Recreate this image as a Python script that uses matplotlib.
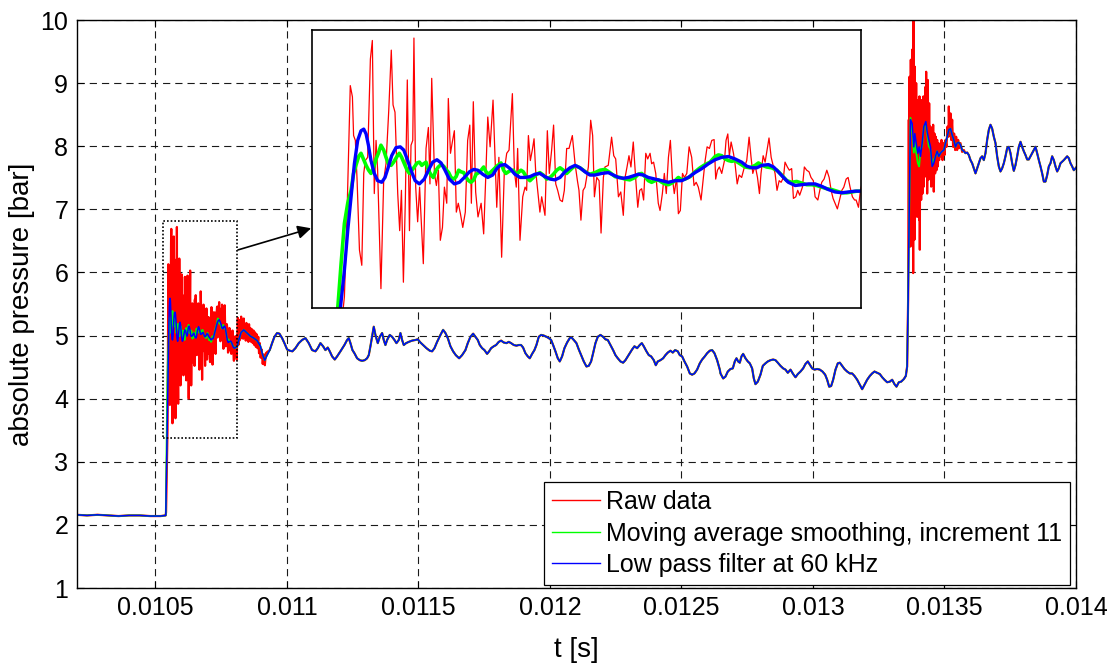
import numpy as np
import matplotlib
matplotlib.use("Agg")
import matplotlib.pyplot as plt
from matplotlib.patches import Rectangle
from matplotlib.ticker import FuncFormatter

plt.rcParams['font.family'] = ['Liberation Sans', 'DejaVu Sans']

# ---------------- data (time in microseconds, pressure in bar) ----------------
# flat level before the first pressure rise (shared by all three signals)
base_pts = [(10200, 2.16), (10240, 2.15), (10280, 2.16), (10320, 2.15), (10360, 2.14),
            (10400, 2.15), (10440, 2.15), (10480, 2.14), (10520, 2.14), (10539, 2.15)]

# raw data, first burst (region shown in the inset)
raw_burst1_pts = [
    (10540.5, 2.20), (10546.1, 3.51), (10547.4, 4.50), (10549.1, 6.13), (10550.2, 5.99), (10550.8, 5.51),
    (10551.7, 5.45), (10552.6, 4.95), (10553.8, 4.09), (10555.0, 3.90), (10556.0, 5.04), (10556.8, 5.20),
    (10558.0, 5.24), (10559.4, 6.46), (10560.4, 6.69), (10561.4, 4.79), (10562.3, 5.45), (10563.1, 5.08),
    (10564.8, 3.61), (10566.2, 4.95), (10567.4, 5.16), (10568.8, 5.82), (10570.1, 6.57), (10571.0, 5.89),
    (10572.0, 5.80), (10573.4, 4.79), (10574.4, 4.33), (10575.3, 4.83), (10576.3, 3.69), (10577.3, 4.71),
    (10578.3, 6.20), (10579.4, 4.33), (10580.2, 5.39), (10581.1, 5.45), (10581.7, 6.72), (10582.6, 4.87),
    (10583.6, 4.44), (10584.6, 4.87), (10586.5, 3.92), (10587.9, 5.35), (10589.1, 5.61), (10589.9, 4.91),
    (10590.8, 6.22), (10592.2, 5.04), (10593.2, 4.89), (10594.2, 5.08), (10595.2, 4.21), (10596.3, 4.37),
    (10597.3, 4.87), (10598.5, 4.67), (10599.3, 5.97), (10600.4, 5.29), (10601.5, 5.45), (10602.4, 5.57),
    (10603.4, 4.56), (10604.4, 4.67), (10605.5, 4.54), (10606.7, 4.37), (10608.0, 4.56), (10609.2, 5.45),
    (10610.3, 5.64), (10611.1, 4.67), (10612.1, 5.93), (10613.3, 4.81), (10614.5, 4.50), (10616.1, 4.67),
    (10617.4, 4.29), (10618.4, 4.95), (10619.5, 5.74), (10620.7, 5.37), (10622.2, 5.95), (10624.1, 4.62),
    (10625.2, 5.24), (10626.6, 4.00), (10628.0, 5.08), (10629.2, 5.29), (10630.4, 5.33), (10632.1, 6.03),
    (10633.1, 5.08), (10634.1, 4.87), (10634.8, 5.35), (10636.0, 4.21), (10637.4, 4.75), (10638.6, 4.87),
    (10639.4, 4.83), (10640.3, 5.51), (10641.3, 5.20), (10642.3, 5.33), (10643.2, 5.47), (10644.0, 5.08),
    (10645.4, 4.75), (10646.2, 4.56), (10647.1, 4.75), (10648.8, 4.52), (10650.0, 5.57), (10651.0, 5.04),
    (10652.2, 5.33), (10653.2, 5.64), (10654.3, 4.91), (10655.3, 4.83), (10656.5, 4.71), (10657.7, 4.69),
    (10658.7, 4.83), (10659.9, 5.35), (10661.1, 5.35), (10662.8, 5.51), (10664.2, 5.16), (10665.4, 4.95),
    (10666.2, 4.83), (10667.2, 4.46), (10668.3, 4.83), (10669.3, 4.87), (10671.0, 5.12), (10672.2, 5.70),
    (10673.2, 5.51), (10674.1, 4.75), (10675.3, 4.99), (10676.5, 4.95), (10677.5, 4.30), (10678.7, 4.99),
    (10679.5, 5.12), (10681.2, 5.14), (10682.9, 5.49), (10684.0, 5.26), (10685.0, 5.22), (10686.4, 4.75),
    (10687.6, 4.81), (10688.9, 4.52), (10689.8, 4.99), (10690.8, 5.12), (10691.8, 5.26), (10692.8, 5.12),
    (10694.0, 5.43), (10695.2, 4.99), (10696.3, 4.62), (10697.3, 4.83), (10698.3, 4.85), (10699.3, 4.71),
    (10700.4, 5.29), (10701.4, 5.22), (10702.6, 5.29), (10703.4, 5.16), (10704.4, 5.18), (10705.5, 5.04),
    (10706.8, 4.67), (10707.7, 4.58), (10708.9, 4.79), (10709.9, 5.04), (10710.9, 4.79), (10712.0, 5.24),
    (10713.0, 5.45), (10714.0, 4.99), (10715.0, 4.79), (10716.2, 4.99), (10717.1, 4.54), (10718.1, 4.58),
    (10719.2, 5.04), (10720.2, 4.99), (10721.4, 5.04), (10722.6, 5.37), (10723.9, 5.24), (10725.1, 4.89),
    (10726.2, 4.93), (10727.3, 4.87), (10728.7, 4.71), (10729.9, 4.99), (10730.8, 5.20), (10731.8, 5.37),
    (10733.0, 5.35), (10734.2, 5.45), (10735.4, 5.46), (10736.2, 4.97), (10737.1, 5.08), (10738.1, 5.12),
    (10739.3, 5.04), (10740.7, 5.20), (10741.5, 5.45), (10742.4, 5.53), (10743.2, 5.26), (10744.1, 5.43),
    (10745.3, 5.29), (10746.1, 5.16), (10747.2, 4.91), (10748.2, 5.02), (10749.5, 4.99), (10750.9, 5.12),
    (10752.1, 5.20), (10753.3, 5.49), (10754.3, 5.24), (10755.2, 5.04), (10756.4, 5.14), (10757.6, 4.99),
    (10758.6, 4.79), (10759.4, 5.04), (10760.5, 5.26), (10761.5, 5.18), (10762.5, 5.33), (10763.5, 5.48),
    (10764.6, 5.24), (10765.4, 5.16), (10766.6, 5.04), (10767.6, 4.83), (10768.7, 4.95), (10769.7, 4.93),
    (10770.9, 4.99), (10771.7, 5.18), (10772.9, 5.12), (10773.9, 5.08), (10775.1, 5.10), (10776.0, 4.73),
    (10777.2, 4.75), (10778.2, 4.83), (10779.2, 4.77), (10780.6, 4.87), (10781.6, 5.12), (10782.8, 5.08),
    (10784.0, 5.06), (10785.0, 4.99), (10786.2, 4.95), (10787.1, 4.75), (10788.5, 4.71), (10789.5, 4.83),
    (10790.5, 4.93), (10791.7, 4.97), (10793.1, 5.08), (10794.3, 4.99), (10795.3, 4.83), (10796.3, 4.73),
    (10797.3, 4.67), (10798.5, 4.60), (10799.6, 4.71), (10800.8, 4.83), (10801.8, 4.87), (10803.0, 4.97),
    (10804.0, 4.99), (10805.0, 4.87), (10806.2, 4.75), (10807.3, 4.71), (10808.1, 4.71), (10809.3, 4.62),
    (10810.3, 4.83)]

# raw data, decaying noise just after the inset region
raw_post1_pts = [
    (10811.5, 4.95), (10813.5, 5.28), (10815.5, 4.85), (10817.5, 5.20), (10819.5, 4.92), (10821.5, 5.25),
    (10823.5, 4.95), (10826.0, 5.30), (10828.5, 5.00), (10831.0, 5.22), (10833.5, 4.95), (10836.0, 5.27),
    (10838.5, 5.02), (10841.0, 5.18), (10843.5, 4.92), (10846.0, 5.20), (10848.5, 4.95), (10851.0, 5.15),
    (10853.5, 4.90), (10856.0, 5.18), (10858.5, 4.92), (10861.0, 5.12), (10864.0, 4.90), (10867.0, 5.10),
    (10870.0, 4.88), (10873.0, 5.08), (10876.0, 4.85), (10879.0, 5.05), (10882.0, 4.82), (10885.0, 5.02),
    (10888.0, 4.80), (10891.0, 4.98), (10894.0, 4.72), (10897.0, 4.88), (10900.0, 4.65), (10904.0, 4.78),
    (10908.0, 4.55), (10912.0, 4.70), (10916.0, 4.53), (10920.0, 4.72), (10925.0, 4.74)]

# moving average (increment 11), first burst
ma_burst1_pts = [
    (10539.5, 2.16), (10542.7, 3.37), (10544.4, 3.92), (10546.1, 4.42), (10547.8, 4.67), (10549.5, 4.83),
    (10550.8, 5.04), (10552.0, 5.14), (10553.4, 5.25), (10554.6, 5.29), (10555.8, 5.22), (10557.2, 5.14),
    (10558.5, 5.08), (10559.7, 5.04), (10561.1, 5.12), (10562.3, 5.22), (10563.5, 5.29), (10564.8, 5.39),
    (10566.2, 5.33), (10567.4, 5.24), (10568.6, 5.16), (10570.0, 5.14), (10571.3, 5.18), (10573.0, 5.25),
    (10574.2, 5.29), (10575.4, 5.24), (10576.8, 5.16), (10578.2, 5.08), (10579.4, 5.04), (10580.7, 5.08),
    (10581.9, 5.12), (10583.3, 5.17), (10584.5, 5.18), (10585.7, 5.14), (10586.7, 5.16), (10587.9, 5.18),
    (10589.1, 5.08), (10590.5, 5.02), (10591.6, 4.99), (10593.0, 5.08), (10594.2, 5.12), (10595.6, 5.15),
    (10596.9, 5.13), (10598.1, 5.09), (10599.5, 5.05), (10600.7, 4.99), (10602.1, 4.97), (10603.3, 5.00),
    (10604.6, 5.08), (10605.8, 5.06), (10607.2, 5.05), (10608.4, 4.99), (10609.7, 4.95), (10610.9, 4.93),
    (10612.3, 4.96), (10613.5, 5.03), (10614.9, 5.05), (10616.1, 5.08), (10617.4, 5.12), (10618.6, 5.06),
    (10620.0, 5.03), (10621.2, 5.06), (10622.5, 5.09), (10624.1, 5.13), (10626.3, 5.17), (10627.6, 5.08),
    (10628.8, 5.04), (10630.0, 5.06), (10631.4, 5.08), (10632.6, 5.08), (10633.8, 5.03), (10635.1, 5.05),
    (10636.5, 5.08), (10637.7, 5.06), (10639.4, 4.99), (10641.1, 4.95), (10642.8, 4.99), (10644.5, 5.03),
    (10646.2, 5.05), (10647.9, 5.02), (10649.7, 4.97), (10651.4, 4.99), (10653.1, 5.03), (10654.8, 5.08),
    (10656.5, 5.11), (10658.2, 5.08), (10659.9, 5.04), (10661.6, 5.08), (10663.3, 5.12), (10665.0, 5.13),
    (10666.7, 5.11), (10668.4, 5.08), (10670.1, 5.05), (10671.8, 5.03), (10674.4, 5.05), (10677.0, 5.08),
    (10679.5, 5.09), (10682.1, 5.05), (10684.7, 5.00), (10687.2, 4.99), (10689.8, 4.97), (10692.3, 4.96),
    (10694.9, 4.99), (10696.6, 5.03), (10698.3, 5.04), (10700.0, 5.00), (10701.7, 4.95), (10703.4, 4.93),
    (10705.1, 4.95), (10706.8, 4.96), (10708.6, 4.93), (10710.3, 4.91), (10712.0, 4.90), (10713.7, 4.92),
    (10715.4, 4.95), (10717.1, 4.99), (10718.8, 4.96), (10720.5, 4.97), (10723.1, 5.00), (10725.6, 5.06),
    (10728.2, 5.11), (10730.8, 5.15), (10733.3, 5.18), (10735.9, 5.25), (10737.6, 5.27), (10739.3, 5.26),
    (10741.0, 5.22), (10742.7, 5.20), (10744.4, 5.19), (10746.1, 5.20), (10748.7, 5.16), (10751.2, 5.12),
    (10753.8, 5.11), (10756.4, 5.14), (10758.1, 5.17), (10760.1, 5.14), (10762.3, 5.12), (10764.9, 5.11),
    (10767.5, 5.08), (10770.0, 5.02), (10772.6, 4.95), (10775.1, 4.93), (10777.7, 4.94), (10780.3, 4.92),
    (10782.8, 4.90), (10785.4, 4.90), (10787.9, 4.89), (10790.5, 4.87), (10793.1, 4.85), (10795.6, 4.84),
    (10798.2, 4.82), (10800.8, 4.80), (10803.3, 4.80), (10805.9, 4.81), (10808.4, 4.82), (10810.6, 4.82)]

# low pass filter at 60 kHz, first burst
lp_burst1_pts = [
    (10539.5, 2.16), (10544.0, 3.36), (10546.1, 3.84), (10547.8, 4.33), (10549.5, 4.75), (10551.2, 5.16),
    (10552.9, 5.45), (10554.6, 5.57), (10556.0, 5.59), (10557.2, 5.53), (10558.4, 5.39), (10559.7, 5.20),
    (10561.4, 5.04), (10563.1, 4.95), (10565.2, 4.93), (10566.9, 4.99), (10568.6, 5.12), (10570.3, 5.26),
    (10572.5, 5.36), (10574.7, 5.37), (10576.5, 5.33), (10578.2, 5.22), (10580.2, 5.08), (10582.3, 4.95),
    (10584.5, 4.91), (10587.0, 4.97), (10589.1, 5.08), (10591.3, 5.18), (10593.5, 5.21), (10595.6, 5.17),
    (10597.6, 5.08), (10599.8, 4.97), (10602.4, 4.91), (10605.0, 4.93), (10607.5, 4.99), (10610.1, 5.06),
    (10612.3, 5.09), (10614.4, 5.08), (10616.9, 5.03), (10619.5, 4.99), (10622.0, 5.02), (10624.1, 5.10),
    (10625.8, 5.14), (10628.3, 5.15), (10630.9, 5.10), (10633.4, 5.03), (10636.0, 4.99), (10638.6, 4.99),
    (10641.1, 5.00), (10643.7, 5.03), (10646.2, 5.04), (10648.8, 5.00), (10651.4, 4.97), (10653.9, 4.96),
    (10656.5, 4.99), (10659.0, 5.06), (10661.6, 5.11), (10664.2, 5.14), (10666.7, 5.11), (10669.3, 5.06),
    (10671.8, 5.02), (10674.4, 5.02), (10677.8, 5.04), (10681.2, 5.05), (10683.8, 5.02), (10686.4, 4.99),
    (10688.9, 4.98), (10691.5, 4.99), (10694.0, 5.01), (10696.6, 5.03), (10699.2, 5.02), (10701.7, 4.99),
    (10705.1, 4.97), (10708.6, 4.95), (10712.0, 4.93), (10715.4, 4.95), (10718.8, 4.95), (10722.2, 4.99),
    (10725.6, 5.05), (10729.1, 5.10), (10732.5, 5.16), (10735.9, 5.21), (10739.3, 5.24), (10742.7, 5.25),
    (10746.1, 5.22), (10749.5, 5.18), (10752.1, 5.13), (10754.7, 5.11), (10757.2, 5.11), (10759.8, 5.14),
    (10763.2, 5.15), (10765.8, 5.12), (10768.3, 5.06), (10770.9, 4.99), (10773.4, 4.93), (10776.9, 4.89),
    (10780.3, 4.90), (10783.7, 4.91), (10787.1, 4.91), (10790.5, 4.88), (10793.9, 4.84), (10797.3, 4.81),
    (10800.8, 4.80), (10804.2, 4.81), (10807.6, 4.82), (10810.6, 4.82)]

# calm part between the two rises (all three signals nearly identical)
calm_pts = [
    (10816.9, 4.93), (10825.8, 5.05), (10835.9, 5.09), (10848.6, 5.04), (10861.2, 4.99), (10873.9, 4.96),
    (10886.6, 4.92), (10899.3, 4.83), (10908.1, 4.69), (10915.7, 4.61), (10924.6, 4.69), (10934.7, 4.77),
    (10943.6, 4.88), (10952.5, 4.98), (10962.6, 5.04), (10971.5, 5.03), (10981.6, 4.96), (10990.5, 4.88),
    (11000.7, 4.78), (11010.8, 4.76), (11020.9, 4.75), (11032.3, 4.80), (11045.0, 4.88), (11057.7, 4.93),
    (11070.4, 4.96), (11083.0, 4.88), (11095.7, 4.77), (11108.4, 4.75), (11117.3, 4.80), (11127.4, 4.88),
    (11137.5, 4.83), (11146.4, 4.77), (11155.3, 4.81), (11162.9, 4.75), (11171.8, 4.67), (11181.9, 4.62),
    (11190.8, 4.67), (11203.4, 4.75), (11218.6, 4.85), (11228.8, 4.93), (11235.1, 4.96), (11241.5, 4.88),
    (11249.1, 4.77), (11256.7, 4.72), (11266.8, 4.64), (11276.9, 4.61), (11285.8, 4.60), (11295.9, 4.61),
    (11304.8, 4.64), (11311.2, 4.69), (11317.5, 4.83), (11323.8, 4.98), (11330.2, 5.14), (11336.5, 5.01),
    (11345.4, 4.88), (11353.0, 4.98), (11361.9, 5.04), (11368.2, 4.93), (11374.5, 4.85), (11380.9, 4.93),
    (11391.0, 5.01), (11399.9, 4.98), (11408.8, 4.93), (11416.4, 4.88), (11425.3, 4.93), (11431.6, 5.04),
    (11437.9, 4.93), (11444.3, 4.85), (11453.1, 4.88), (11463.3, 4.90), (11475.9, 4.92), (11488.6, 4.93),
    (11497.5, 4.94), (11507.6, 4.89), (11517.7, 4.85), (11530.4, 4.80), (11543.1, 4.76), (11552.0, 4.75),
    (11560.9, 4.80), (11571.0, 4.90), (11583.7, 5.01), (11593.8, 5.09), (11602.7, 5.04), (11611.6, 4.96),
    (11621.7, 4.83), (11631.8, 4.75), (11642.0, 4.69), (11654.7, 4.64), (11666.0, 4.69), (11678.7, 4.77),
    (11687.6, 4.88), (11697.7, 4.98), (11707.9, 5.03), (11716.7, 4.98), (11725.6, 4.93), (11733.2, 4.85),
    (11742.1, 4.80), (11750.9, 4.77), (11761.1, 4.71), (11768.7, 4.75), (11776.3, 4.80), (11786.4, 4.83),
    (11795.3, 4.85), (11805.4, 4.90), (11814.3, 4.92), (11824.4, 4.89), (11834.6, 4.88), (11843.5, 4.90),
    (11852.3, 4.88), (11862.5, 4.85), (11872.6, 4.84), (11881.5, 4.85), (11890.3, 4.85), (11897.9, 4.81),
    (11906.8, 4.72), (11915.7, 4.67), (11923.3, 4.64), (11932.2, 4.71), (11941.0, 4.77), (11948.6, 4.85),
    (11957.5, 4.98), (11966.4, 5.01), (11976.5, 5.00), (11986.7, 4.98), (11995.5, 4.96), (12004.4, 4.93),
    (12012.0, 4.85), (12020.9, 4.75), (12029.8, 4.64), (12037.4, 4.59), (12046.2, 4.67), (12055.1, 4.80),
    (12065.2, 4.89), (12075.4, 4.96), (12081.7, 4.97), (12090.6, 4.93), (12100.7, 4.88), (12109.6, 4.78),
    (12118.5, 4.69), (12128.6, 4.59), (12138.7, 4.51), (12147.6, 4.52), (12156.5, 4.59), (12164.1, 4.72),
    (12173.0, 4.88), (12181.8, 4.98), (12192.0, 5.01), (12202.1, 4.98), (12211.0, 4.94), (12219.9, 4.93),
    (12230.0, 4.85), (12240.1, 4.77), (12249.0, 4.69), (12257.9, 4.64), (12268.0, 4.59), (12278.2, 4.57),
    (12287.0, 4.61), (12295.9, 4.67), (12303.5, 4.72), (12312.4, 4.78), (12321.3, 4.83), (12331.4, 4.80),
    (12341.5, 4.85), (12349.2, 4.88), (12356.7, 4.83), (12366.9, 4.75), (12375.8, 4.69), (12384.6, 4.67),
    (12394.8, 4.61), (12402.4, 4.53), (12410.0, 4.59), (12420.1, 4.61), (12430.3, 4.64), (12439.1, 4.69),
    (12448.0, 4.73), (12458.1, 4.76), (12467.0, 4.73), (12475.9, 4.77), (12486.0, 4.75), (12493.6, 4.69),
    (12502.5, 4.67), (12511.4, 4.59), (12521.5, 4.51), (12531.7, 4.40), (12540.5, 4.38), (12549.4, 4.40),
    (12559.5, 4.46), (12569.7, 4.56), (12578.6, 4.62), (12588.7, 4.67), (12597.6, 4.72), (12607.7, 4.76),
    (12616.6, 4.77), (12625.5, 4.72), (12635.6, 4.61), (12645.8, 4.46), (12648.3, 4.40), (12658.5, 4.32),
    (12667.3, 4.35), (12676.2, 4.43), (12686.3, 4.47), (12695.2, 4.48), (12702.8, 4.59), (12709.2, 4.64),
    (12715.5, 4.59), (12721.8, 4.57), (12728.2, 4.67), (12734.5, 4.71), (12743.4, 4.64), (12752.2, 4.59),
    (12759.8, 4.56), (12768.7, 4.48), (12775.1, 4.32), (12781.4, 4.23), (12790.3, 4.27), (12800.4, 4.38),
    (12809.3, 4.52), (12819.4, 4.56), (12828.3, 4.59), (12838.4, 4.61), (12848.6, 4.62), (12857.4, 4.61),
    (12866.3, 4.57), (12876.5, 4.52), (12886.6, 4.48), (12895.5, 4.46), (12904.3, 4.41), (12914.5, 4.46),
    (12924.6, 4.39), (12933.5, 4.34), (12942.4, 4.39), (12952.5, 4.43), (12962.6, 4.48), (12971.5, 4.55),
    (12980.4, 4.59), (12988.0, 4.54), (12996.9, 4.48), (13005.7, 4.46), (13015.9, 4.47), (13026.0, 4.46),
    (13036.2, 4.43), (13046.3, 4.38), (13053.9, 4.30), (13061.5, 4.19), (13069.1, 4.20), (13076.7, 4.30),
    (13085.6, 4.46), (13094.4, 4.56), (13102.1, 4.57), (13110.9, 4.52), (13119.8, 4.47), (13129.9, 4.43),
    (13140.1, 4.40), (13148.9, 4.40), (13157.8, 4.36), (13168.0, 4.30), (13178.1, 4.22), (13187.0, 4.15),
    (13195.8, 4.22), (13206.0, 4.30), (13216.1, 4.36), (13225.0, 4.40), (13233.9, 4.43), (13244.0, 4.41),
    (13254.1, 4.39), (13263.0, 4.34), (13271.9, 4.30), (13282.0, 4.26), (13292.2, 4.27), (13301.0, 4.30),
    (13309.9, 4.23), (13317.5, 4.19), (13326.4, 4.26), (13335.3, 4.27), (13345.4, 4.31), (13353.0, 4.36)]

# raw data, second burst
raw_burst2_pts = [
    (13358.0, 4.51), (13361.8, 5.57), (13364.4, 8.42), (13365.6, 6.41), (13366.9, 9.10), (13368.2, 6.88),
    (13369.4, 8.73), (13370.7, 6.41), (13372.0, 9.37), (13373.2, 7.15), (13374.5, 9.00), (13375.8, 6.62),
    (13377.0, 9.53), (13378.3, 7.36), (13379.6, 8.89), (13380.9, 5.99), (13382.1, 10.40), (13383.4, 7.68),
    (13384.7, 9.16), (13385.9, 6.52), (13387.2, 9.26), (13388.5, 7.36), (13389.7, 8.63), (13391.0, 7.04),
    (13392.3, 9.00), (13393.5, 7.47), (13394.8, 8.47), (13396.1, 6.88), (13397.3, 8.73), (13398.6, 7.78),
    (13399.9, 8.52), (13401.1, 7.15), (13402.4, 8.31), (13403.7, 6.83), (13404.9, 8.79), (13406.2, 6.36),
    (13407.5, 8.47), (13408.7, 7.36), (13410.0, 8.58), (13411.3, 7.15), (13412.5, 8.73), (13413.8, 7.57),
    (13415.1, 8.31), (13416.3, 7.25), (13417.6, 8.73), (13418.9, 7.68), (13420.1, 8.79), (13421.4, 7.36),
    (13422.7, 8.31), (13423.9, 7.78), (13425.2, 8.63), (13426.5, 7.52), (13427.7, 8.94), (13429.0, 7.84),
    (13430.3, 9.18), (13431.5, 7.68), (13432.8, 8.73), (13434.1, 7.25), (13436.6, 9.05), (13439.1, 7.47),
    (13441.7, 8.68), (13444.2, 7.57), (13446.8, 8.31), (13449.3, 7.36), (13451.8, 7.99), (13454.4, 7.57),
    (13456.9, 8.34), (13459.4, 7.28), (13462.0, 8.20), (13464.5, 7.57), (13467.0, 8.15), (13469.6, 7.62),
    (13472.1, 8.10), (13474.6, 7.68), (13477.2, 8.05), (13479.7, 7.78), (13482.2, 7.97), (13484.8, 7.84),
    (13488.6, 8.10), (13492.4, 7.78), (13496.2, 8.05), (13500.0, 7.86), (13503.8, 8.10), (13507.6, 7.99),
    (13511.4, 8.31), (13515.2, 8.15), (13516.5, 8.63), (13519.0, 8.20), (13522.8, 8.52), (13525.3, 8.10),
    (13529.1, 8.42), (13532.9, 7.99), (13536.7, 8.20), (13540.5, 7.94), (13544.3, 8.15), (13548.1, 7.94),
    (13551.9, 8.10), (13555.7, 7.97), (13560.8, 8.05), (13567.2, 7.91), (13573.5, 7.94)]

# moving average, second burst
ma_burst2_pts = [
    (13358.0, 4.51), (13361.8, 5.56), (13365.6, 6.88), (13370.7, 8.45), (13378.3, 8.20), (13383.4, 7.90),
    (13387.2, 8.10), (13392.3, 7.90), (13398.6, 7.73), (13403.7, 7.68), (13408.7, 7.94), (13415.1, 8.00),
    (13421.4, 8.31), (13429.0, 8.36), (13434.1, 8.20), (13440.4, 8.00), (13446.8, 7.95), (13453.1, 7.70),
    (13459.4, 7.78)]

# after the second rise (low pass curve, shared where signals coincide)
tail_pts = [
    (13358.0, 4.51), (13361.8, 5.56), (13365.6, 6.88), (13370.7, 8.42), (13377.0, 8.36), (13383.4, 7.99),
    (13387.2, 8.20), (13392.3, 8.05), (13398.6, 7.89), (13403.7, 7.99), (13408.7, 7.84), (13415.1, 8.05),
    (13421.4, 8.31), (13429.0, 8.39), (13434.1, 8.23), (13440.4, 8.10), (13446.8, 7.99), (13453.1, 7.68),
    (13459.4, 7.73), (13465.8, 7.84), (13472.1, 7.92), (13478.4, 7.84), (13484.8, 7.89), (13491.1, 7.92),
    (13497.5, 7.94), (13503.8, 8.05), (13510.1, 8.15), (13516.5, 8.26), (13522.8, 8.28), (13529.1, 8.18),
    (13535.5, 8.10), (13541.8, 7.99), (13548.1, 8.05), (13554.5, 8.06), (13560.8, 8.02), (13567.2, 7.94),
    (13573.5, 7.92), (13579.8, 7.89), (13586.2, 7.90), (13592.5, 7.86), (13598.8, 7.78), (13605.2, 7.73),
    (13611.5, 7.65), (13617.9, 7.57), (13624.2, 7.65), (13630.5, 7.73), (13636.9, 7.81), (13643.2, 7.84),
    (13649.5, 7.78), (13655.9, 7.89), (13662.2, 8.10), (13668.6, 8.26), (13674.9, 8.34), (13681.2, 8.28),
    (13687.6, 8.15), (13693.9, 8.05), (13700.2, 7.84), (13706.6, 7.68), (13712.9, 7.60), (13719.2, 7.65),
    (13725.6, 7.73), (13731.9, 7.84), (13738.3, 7.97), (13744.6, 7.99), (13750.9, 7.89), (13757.3, 7.73),
    (13763.6, 7.61), (13769.9, 7.70), (13776.3, 7.84), (13782.6, 7.99), (13789.0, 8.07), (13795.3, 7.99),
    (13801.6, 7.92), (13808.0, 7.86), (13814.3, 7.79), (13820.6, 7.79), (13827.0, 7.84), (13833.3, 7.89),
    (13839.6, 7.94), (13846.0, 7.99), (13852.3, 7.89), (13858.7, 7.78), (13865.0, 7.68), (13871.3, 7.57),
    (13877.7, 7.44), (13884.0, 7.44), (13890.3, 7.54), (13896.7, 7.68), (13903.0, 7.73), (13909.3, 7.84),
    (13915.7, 7.78), (13922.0, 7.68), (13928.4, 7.60), (13934.7, 7.65), (13941.0, 7.73), (13953.7, 7.78),
    (13966.4, 7.84), (13972.7, 7.81), (13979.1, 7.73), (13985.4, 7.68), (13991.7, 7.62), (13998.1, 7.65),
    (14004.4, 7.68)]

# zoom window (dotted box in the main plot = limits of the inset)
zoom_t = [10529.3, 10810.6]
zoom_p = [3.37, 6.82]

x_ticks = [0.0105, 0.011, 0.0115, 0.012, 0.0125, 0.013, 0.0135, 0.014]
y_ticks = [1, 2, 3, 4, 5, 6, 7, 8, 9, 10]
labels = ["Raw data", "Moving average smoothing, increment 11", "Low pass filter at 60 kHz"]


# ---------------- assemble series ----------------
def seg(pts, lo=-np.inf, hi=np.inf):
    a = np.asarray(pts, dtype=float)
    m = (a[:, 0] > lo) & (a[:, 0] < hi)
    return a[m]


def join(*parts):
    a = np.concatenate(parts)
    return a[:, 0] * 1e-6, a[:, 1]


raw_t, raw_p = join(seg(base_pts), seg(raw_burst1_pts), seg(raw_post1_pts),
                    seg(calm_pts, lo=10930), seg(raw_burst2_pts), seg(tail_pts, lo=13575))
ma_t, ma_p = join(seg(base_pts), seg(ma_burst1_pts), seg(calm_pts),
                  seg(ma_burst2_pts), seg(tail_pts, lo=13460))
lp_t, lp_p = join(seg(base_pts), seg(lp_burst1_pts), seg(calm_pts), seg(tail_pts))

RED, GREEN, BLUE = '#ff0000', '#00ff00', '#0000ff'

# ---------------- figure ----------------
W, H = 1113, 663
fig = plt.figure(figsize=(W / 100, H / 100), dpi=100)
ax = fig.add_axes([76.5 / W, 1 - 588 / H, (1076 - 76.5) / W, (588 - 20) / H])

ax.plot(raw_t, raw_p, color=RED, lw=1.6, label=labels[0])
ax.plot(ma_t, ma_p, color=GREEN, lw=1.3, label=labels[1])
ax.plot(lp_t, lp_p, color=BLUE, lw=1.1, label=labels[2])

ax.set_xlim(0.0102, 0.014)
ax.set_ylim(1, 10)
ax.set_xticks(x_ticks)
ax.set_yticks(y_ticks)
ax.xaxis.set_major_formatter(FuncFormatter(lambda v, pos: '%g' % v))
ax.tick_params(direction='in', top=True, right=True, length=5, width=0.8,
               labelsize=18, pad=6)
ax.grid(True, color='0.1', linestyle=(0, (6.5, 4.5)), lw=0.8)
for s in ax.spines.values():
    s.set_linewidth(1.0)
    s.set_color('black')

ax.set_xlabel('t [s]', fontsize=20, labelpad=12)
ax.set_ylabel('absolute pressure [bar]', fontsize=20, labelpad=4)

leg = ax.legend(loc='lower right', bbox_to_anchor=(0.994, 0.005), fontsize=18,
                frameon=True, fancybox=False, edgecolor='black', framealpha=1,
                borderaxespad=0, handlelength=1.9, labelspacing=0.3,
                borderpad=0.32, handletextpad=0.25)
leg.get_frame().set_linewidth(0.9)
for ln in leg.get_lines():
    ln.set_linewidth(1.0)

# dotted box around the zoomed region
ax.add_patch(Rectangle((zoom_t[0] * 1e-6, zoom_p[0]), (zoom_t[1] - zoom_t[0]) * 1e-6,
                       zoom_p[1] - zoom_p[0], fill=False, ec='black', lw=1.2,
                       ls=(0, (1, 1.2)), zorder=5))

# arrow from the box to the inset
ax.annotate('', xy=(11092e-6, 6.70), xytext=(10814e-6, 6.357),
            arrowprops=dict(arrowstyle='-|>', color='black', lw=1.2, mutation_scale=20,
                            shrinkA=0, shrinkB=0),
            annotation_clip=False, zorder=6)

# inset
axin = fig.add_axes([311.6 / W, 1 - 308 / H, 549.4 / W, 278 / H])
axin.plot(raw_t, raw_p, color=RED, lw=0.9)
axin.plot(ma_t, ma_p, color=GREEN, lw=2.6)
axin.plot(lp_t, lp_p, color=BLUE, lw=2.4)
axin.set_xlim(zoom_t[0] * 1e-6, zoom_t[1] * 1e-6)
axin.set_ylim(zoom_p[0], zoom_p[1])
axin.set_xticks([])
axin.set_yticks([])
for s in axin.spines.values():
    s.set_linewidth(1.2)
    s.set_color('black')

fig.savefig('out.png', dpi=100)
